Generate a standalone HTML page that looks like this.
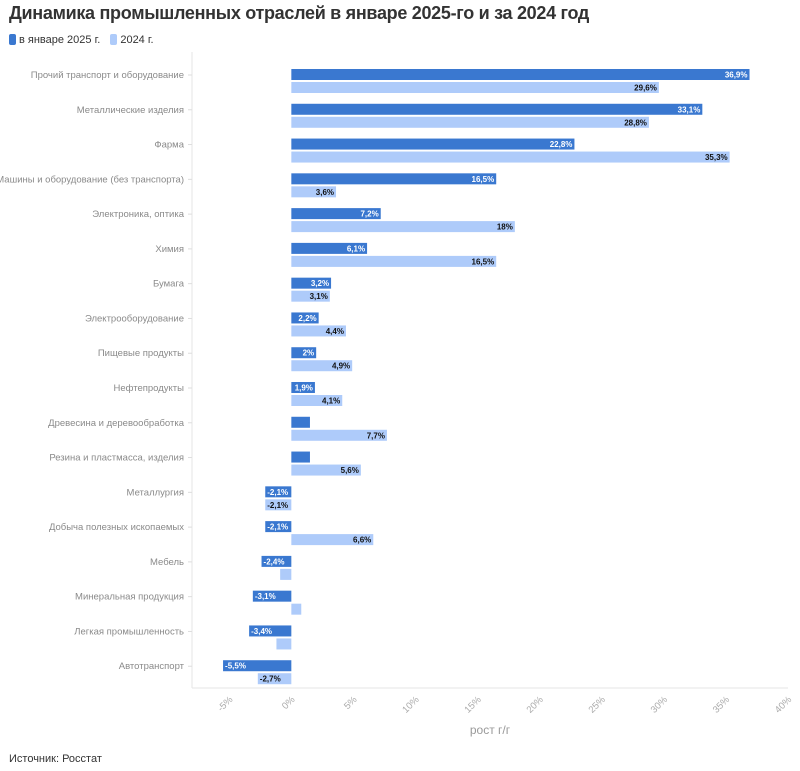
<!DOCTYPE html>
<html><head><meta charset="utf-8"><style>
body{margin:0;background:#fff;font-family:"Liberation Sans","Noto Sans CJK SC",sans-serif;width:800px;height:771px;overflow:hidden;position:relative}
h1{position:absolute;left:9px;top:3px;margin:0;font-size:18px;font-weight:bold;color:#333;letter-spacing:-0.3px}
.legend{position:absolute;left:9px;top:34px;font-size:11px;color:#333;display:flex;gap:10px}
.legend span.sw{display:inline-block;width:7px;height:11px;border-radius:2px;margin-right:3px;vertical-align:-2px}
.src{position:absolute;left:9px;top:753px;font-size:11px;color:#333}
</style></head><body>
<h1>Динамика промышленных отраслей в январе 2025-го и за 2024 год</h1>
<div class="legend">
<div><span class="sw" style="background:#3a78d0"></span>в январе 2025 г.</div>
<div><span class="sw" style="background:#aecbfa"></span>2024 г.</div>
</div>
<svg id="chart" width="800" height="771" style="position:absolute;left:0;top:0"></svg>
<div class="src">Источник: Росстат</div>
<script>
const categories=["Прочий транспорт и оборудование","Металлические изделия","Фарма","Машины и оборудование (без транспорта)","Электроника, оптика","Химия","Бумага","Электрооборудование","Пищевые продукты","Нефтепродукты","Древесина и деревообработка","Резина и пластмасса, изделия","Металлургия","Добыча полезных ископаемых","Мебель","Минеральная продукция","Легкая промышленность","Автотранспорт"];
const jan2025=[36.9,33.1,22.8,16.5,7.2,6.1,3.2,2.2,2,1.9,1.5,1.5,-2.1,-2.1,-2.4,-3.1,-3.4,-5.5];
const jan2025Labels=["36,9%","33,1%","22,8%","16,5%","7,2%","6,1%","3,2%","2,2%","2%","1,9%","","","-2,1%","-2,1%","-2,4%","-3,1%","-3,4%","-5,5%"];
const y2024=[29.6,28.8,35.3,3.6,18,16.5,3.1,4.4,4.9,4.1,7.7,5.6,-2.1,6.6,-0.9,0.8,-1.2,-2.7];
const y2024Labels=["29,6%","28,8%","35,3%","3,6%","18%","16,5%","3,1%","4,4%","4,9%","4,1%","7,7%","5,6%","-2,1%","6,6%","","","","-2,7%"];
const ticks=[-5,0,5,10,15,20,25,30,35,40];
const tickLabels=["-5%","0%","5%","10%","15%","20%","25%","30%","35%","40%"];

const svg=document.getElementById('chart');const NS='http://www.w3.org/2000/svg';
const X0=192,X1=788,D0=-8,D1=40,Y0=62,Y1=688;
const x=v=>X0+(v-D0)/(D1-D0)*(X1-X0);
const band=(Y1-Y0)/categories.length;
const y=i=>Y0+i*band;
function mk(t,a){const e=document.createElementNS(NS,t);for(const k in a)e.setAttribute(k,a[k]);svg.appendChild(e);return e;}
let ax=mk('line',{x1:X0,y1:Y0-10,x2:X0,y2:Y1,stroke:'#e6e6e6'});


let bx=mk('line',{x1:X0,y1:Y1,x2:X1,y2:Y1,stroke:'#e6e6e6'});


categories.forEach((c,i)=>{
  const cy=y(i)+band/2;
  const t=mk('text',{x:X0-8,y:y(i)+16,'text-anchor':'end','font-size':'9.5',fill:'#8a8a8a','font-family':'Liberation Sans, sans-serif'});
  t.textContent=c;
  
  
  const tk=mk('line',{x1:X0-4,x2:X0,y1:y(i)+13,y2:y(i)+13,stroke:'#ddd'});
  
  
  [[jan2025,jan2025Labels,'#3a78d0','#fff',7,'bar-2025'],[y2024,y2024Labels,'#aecbfa','#111',20,'bar-2024']].forEach(([vals,labs,col,tc,off,nm])=>{
    const v=vals[i];const xa=x(Math.min(0,v)),xb=x(Math.max(0,v));
    const r=mk('rect',{x:xa,y:y(i)+off,width:xb-xa,height:11,fill:col});
    
    
    if(labs[i]){
      const lt=mk('text',{x:v>=0?xb-2:xa+2,y:y(i)+off+8.5,'text-anchor':v>=0?'end':'start','font-size':'8','font-weight':'bold',fill:tc});
      lt.textContent=labs[i];
      
      
    }
  });
});
ticks.forEach((t,i)=>{
  const tx=mk('text',{x:x(t)+4,y:Y1+12,'text-anchor':'end','font-size':'9.5',fill:'#aaa',transform:`rotate(-45 ${x(t)+4} ${Y1+12})`});
  tx.textContent=tickLabels[i];
  
  
});
const at=mk('text',{x:490,y:734,'text-anchor':'middle','font-size':'12',fill:'#999'});
at.textContent='рост г/г';


</script>
</body></html>
